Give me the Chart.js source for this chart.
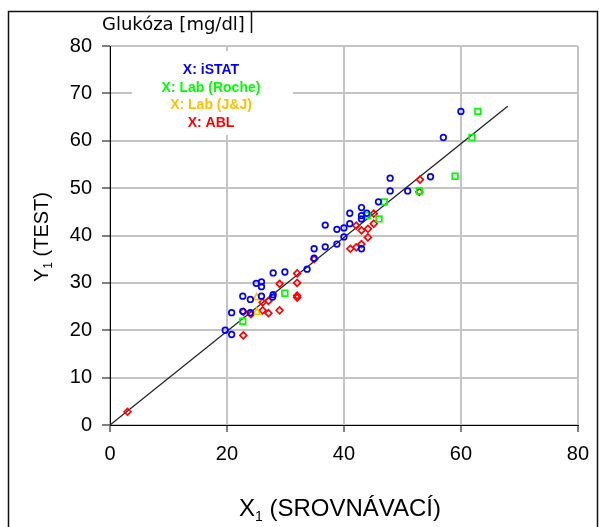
<!DOCTYPE html>
<html><head><meta charset="utf-8">
<script src="https://cdn.jsdelivr.net/npm/chart.js@4.4.1/dist/chart.umd.min.js"></script>
<style>html,body{margin:0;padding:0;background:#fff;overflow:hidden}</style>
</head><body>
<canvas id="c" width="599" height="527"></canvas>
<script>
// ---- data ----
const seriesNames = ['X: iSTAT', 'X: Lab (Roche)', 'X: Lab (J&J)', 'X: ABL'];
const seriesColors = ['#0000FF', '#00FF00', '#FFC000', '#FF0000'];

const istatX = [19.7,20.8,20.8,22.7,24.0,22.7,24.0,25.9,27.9,27.8,25.0,25.9,25.9,27.9,29.9,33.7,34.9,34.9,36.8,38.8,40.0,36.8,38.8,40.0,41.0,41.0,43.0,43.9,43.0,43.0,43.0,45.9,47.9,47.9,50.9,54.8,57.0,60.0];
const istatY = [20.0,19.1,23.7,24.0,23.7,27.2,26.5,27.2,27.5,27.0,29.9,30.2,29.2,32.1,32.3,32.9,35.2,37.2,37.6,38.2,39.7,42.2,41.3,41.6,42.5,44.7,45.9,44.7,44.2,43.5,37.2,47.1,49.4,52.1,49.4,52.4,60.7,66.2];

const rocheX = [22.7,29.9,44.0,46.0,46.9,52.9,59.0,61.9,62.9];
const rocheY = [21.9,27.8,44.2,43.5,47.1,49.4,52.5,60.7,66.2];

const jjX = [25.1,25.1];
const jjY = [26.9,23.8];

const ablX = [3.0,22.8,22.8,24.1,26.1,27.1,29.0,26.1,27.1,29.0,32.0,32.0,32.0,32.0,34.9,41.1,42.1,43.0,44.1,42.1,43.0,44.1,45.1,45.1,52.9,53.0];
const ablY = [2.8,18.9,23.9,23.4,24.2,23.6,24.2,25.9,26.2,29.8,32.0,30.0,27.3,26.9,35.0,37.2,37.5,38.2,39.6,42.1,41.1,41.4,42.5,44.6,49.2,51.8];

const fitX = [0, 68];
const fitY = [0, 67.3];

const xTicks = [0, 20, 40, 60, 80];
const yTicks = [0, 10, 20, 30, 40, 50, 60, 70, 80];

const chartTitle = 'Glukóza [mg/dl]';
const xTitle = ['X', '1', ' (SROVNÁVACÍ)'];
const yTitle = ['Y', '1', ' (TEST)'];
// --------------------------------------

const pts = (xs, ys) => xs.map((x, i) => ({x: x, y: ys[i]}));
const AX = '"Liberation Sans", Arial, sans-serif';

const deco = {
  id: 'deco',
  beforeDraw(chart) {
    const ctx = chart.ctx;
    ctx.save();
    ctx.fillStyle = '#fff';
    ctx.fillRect(0, 0, chart.width, chart.height);
    ctx.restore();
  },
  beforeDatasetsDraw(chart) {
    const ctx = chart.ctx;
    ctx.save();
    ctx.fillStyle = '#fff';
    ctx.fillRect(132, 51, 161, 84);
    ctx.font = 'bold 14px ' + AX;
    ctx.textAlign = 'center';
    ctx.textBaseline = 'middle';
    const ys = [70, 88, 105.5, 123];
    seriesNames.forEach((n, i) => {
      ctx.fillStyle = seriesColors[i];
      ctx.fillText(n, 211, ys[i]);
    });
    ctx.restore();
  },
  afterDraw(chart) {
    const ctx = chart.ctx;
    ctx.save();
    // outer frame
    ctx.strokeStyle = '#111';
    ctx.lineWidth = 1.5;
    ctx.strokeRect(8.5, 11.5, 589, 530);
    // title
    ctx.fillStyle = '#000';
    ctx.font = '18px "DejaVu Sans", Verdana, sans-serif';
    ctx.textAlign = 'left';
    ctx.textBaseline = 'alphabetic';
    ctx.fillText(chartTitle, 102, 30);
    ctx.beginPath();
    ctx.moveTo(251.5, 11);
    ctx.lineTo(251.5, 33);
    ctx.stroke();
    // axis titles with subscript
    function drawSub(parts, cx, base, size) {
      const big = size + 'px ' + AX, small = Math.round(size * 0.6) + 'px ' + AX;
      ctx.font = big; const w0 = ctx.measureText(parts[0]).width;
      ctx.font = small; const w1 = ctx.measureText(parts[1]).width;
      ctx.font = big; const w2 = ctx.measureText(parts[2]).width;
      let x = cx - (w0 + w1 + w2) / 2;
      ctx.textAlign = 'left';
      ctx.textBaseline = 'alphabetic';
      ctx.font = big; ctx.fillText(parts[0], x, base); x += w0;
      ctx.font = small; ctx.fillText(parts[1], x, base + size * 0.22); x += w1;
      ctx.font = big; ctx.fillText(parts[2], x, base);
    }
    ctx.fillStyle = '#000';
    drawSub(xTitle, 340, 516, 24);
    ctx.translate(48, 237);
    ctx.rotate(-Math.PI / 2);
    drawSub(yTitle, 0, 0, 20);
    ctx.restore();
  }
};

const markerBase = {showLine: false, backgroundColor: 'rgba(0,0,0,0)', borderWidth: 1.7, pointBorderWidth: 1.7};

new Chart(document.getElementById('c'), {
  type: 'scatter',
  data: {
    datasets: [
      Object.assign({label: seriesNames[0], data: pts(istatX, istatY), borderColor: seriesColors[0], pointStyle: 'circle', pointRadius: 2.8}, markerBase),
      Object.assign({label: seriesNames[1], data: pts(rocheX, rocheY), borderColor: seriesColors[1], pointStyle: 'rect', pointRadius: 4}, markerBase),
      Object.assign({label: seriesNames[2], data: pts(jjX, jjY), borderColor: seriesColors[2], pointStyle: 'triangle', pointRadius: 4}, markerBase),
      Object.assign({label: seriesNames[3], data: pts(ablX, ablY), borderColor: seriesColors[3], pointStyle: 'rectRot', pointRadius: 3.4}, markerBase),
      {label: 'fit', data: pts(fitX, fitY), showLine: true, borderColor: '#222', borderWidth: 1.3, pointRadius: 0, fill: false, order: 5}
    ]
  },
  options: {
    responsive: false,
    animation: false,
    devicePixelRatio: 1,
    layout: {padding: {top: 46, right: 16, left: 0, bottom: 0}},
    plugins: {legend: {display: false}, title: {display: false}, tooltip: {enabled: false}},
    scales: {
      x: {
        type: 'linear', min: 0, max: 80,
        afterFit(s) { s.height = 102; },
        afterBuildTicks(s) { s.ticks = xTicks.map(v => ({value: v})); },
        ticks: {color: '#000', font: {family: AX, size: 20}, padding: 10, maxRotation: 0},
        grid: {color: '#c4c4c4', lineWidth: 2, tickColor: '#000', tickLength: 7, tickWidth: 1},
        border: {color: '#000', width: 1}
      },
      y: {
        type: 'linear', min: 0, max: 80,
        afterFit(s) { s.width = 110; },
        afterBuildTicks(s) { s.ticks = yTicks.map(v => ({value: v})); },
        ticks: {color: '#000', font: {family: AX, size: 20}, padding: 10},
        grid: {color: '#c4c4c4', lineWidth: 2, tickColor: '#000', tickLength: 8, tickWidth: 1},
        border: {color: '#000', width: 1}
      }
    }
  },
  plugins: [deco]
});
</script>
</body></html>
